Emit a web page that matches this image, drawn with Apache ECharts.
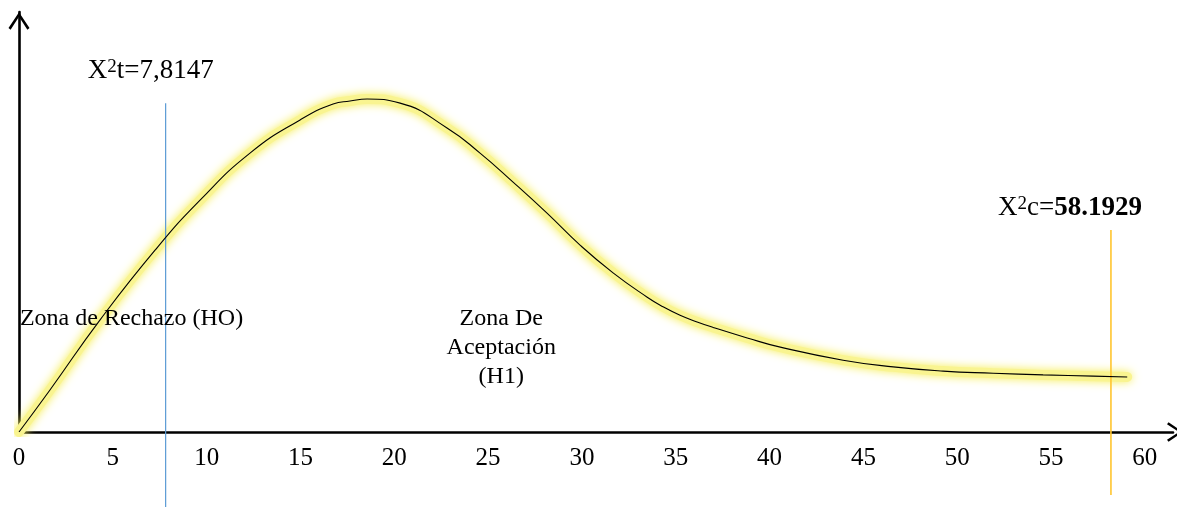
<!DOCTYPE html>
<html><head><meta charset="utf-8">
<script src="https://cdn.jsdelivr.net/npm/echarts@6/dist/echarts.min.js"></script>
<style>html,body{margin:0;padding:0;background:#fff}#c{width:1177px;height:507px}</style>
</head><body><div id="c"></div>
<script>
// Curve (x in chi-square units, y in arbitrary density units)
const curveX = [0, 1.65, 4.32, 7.25, 9.65, 12.31, 14.98, 16.74, 17.64, 18.55, 20.31, 22.81, 24.57, 26.33, 28.14, 29.90, 31.66, 33.48, 34.33, 35.23, 36.14, 36.99, 38.81, 40.57, 43.92, 46.59, 49.25, 51.92, 54.58, 57.25, 59.06];
const curveY = [0, 10.0, 26.7, 43.3, 55.2, 66.4, 74.3, 78.1, 78.8, 79.3, 78.3, 72.4, 66.4, 59.5, 52.1, 44.5, 37.9, 32.1, 29.8, 27.8, 26.2, 24.9, 22.4, 20.2, 17.1, 15.5, 14.5, 14.0, 13.6, 13.3, 13.1];
const xTickLabels = ['0','5','10','15','20','25','30','35','40','45','50','55','60'];
const chiTabla = 7.8147;
const chiCalc = 58.1929;
const tLineY = [78.3, -17.9];
const cLineY = [48.1, -15.0];
const zoneNames = ['Zona de Rechazo (HO)', 'Zona De\nAceptación\n(H1)'];
const zoneX = [0.05, 25.7];
const zoneY = [27.0, 20.0];

const FONT = "'Liberation Serif', 'Times New Roman', serif";
const chevron = 'path://M10,0 L20,15 L18,16.6 L10,4.2 L2,16.6 L0,15 Z';

const curve = curveX.map((x, i) => [x, curveY[i]]);

const chart = echarts.init(document.getElementById('c'), null, {renderer: 'canvas'});
chart.setOption({
  animation: false,
  backgroundColor: '#fff',
  grid: {left: 19, right: 4, top: 12, bottom: 75, outerBoundsMode: 'none', containLabel: false},
  xAxis: {
    type: 'value', min: 0, max: 61.5, interval: 5,
    splitLine: {show: false},
    axisTick: {show: false},
    axisLine: {show: true, onZero: false, lineStyle: {color: '#000', width: 2.6},
      symbol: ['none', chevron], symbolSize: [21, 16], symbolOffset: [0, 2]},
    axisLabel: {
      show: true, showMaxLabel: false, margin: 14, color: '#000',
      fontFamily: FONT, fontSize: 25,
      formatter: v => xTickLabels.includes(String(v)) ? String(v) : ''
    }
  },
  yAxis: {
    type: 'value', min: 0, max: 100,
    splitLine: {show: false},
    axisTick: {show: false},
    axisLabel: {show: false},
    axisLine: {show: true, onZero: false, lineStyle: {color: '#000', width: 2.6},
      symbol: ['none', chevron], symbolSize: [21, 18], symbolOffset: [0, -9]}
  },
  series: [
    {
      name: 'glow', type: 'line', data: curve, smooth: 0.5, showSymbol: false, silent: true,
      lineStyle: {color: '#f9f490', width: 10, cap: 'round', join: 'round', shadowBlur: 10, shadowColor: '#f6ee55'},
      z: 1
    },
    {
      name: 'curva', type: 'line', data: curve, smooth: 0.5, showSymbol: false,
      lineStyle: {color: '#000', width: 1.1},
      z: 3
    },
    {
      name: 'tabla', type: 'line', clip: false, showSymbol: true, symbol: 'circle', symbolSize: 1,
      itemStyle: {color: 'rgba(0,0,0,0)'},
      lineStyle: {color: '#5b9bd5', width: 1.2}, z: 2,
      data: [
        {value: [chiTabla, tLineY[0]], label: {
          show: true, position: 'top', distance: 18, offset: [-15, 0],
          formatter: '{a|X}{s|2}{a|t=7,8147}',
          rich: {a: {fontFamily: FONT, fontSize: 27, color: '#000'},
                 s: {fontFamily: FONT, fontSize: 19, color: '#000', verticalAlign: 'top'}}
        }},
        [chiTabla, tLineY[1]]
      ]
    },
    {
      name: 'calculado', type: 'line', clip: false, showSymbol: true, symbol: 'circle', symbolSize: 1,
      itemStyle: {color: 'rgba(0,0,0,0)'},
      lineStyle: {color: '#ffc52e', width: 1.6}, z: 2,
      data: [
        {value: [chiCalc, cLineY[0]], label: {
          show: true, position: 'top', distance: 8, offset: [-41, 0],
          formatter: '{a|X}{s|2}{a|c=}{b|58.1929}',
          rich: {a: {fontFamily: FONT, fontSize: 27, color: '#000'},
                 s: {fontFamily: FONT, fontSize: 19, color: '#000', verticalAlign: 'top'},
                 b: {fontFamily: FONT, fontSize: 27, color: '#000', fontWeight: 'bold'}}
        }},
        [chiCalc, cLineY[1]]
      ]
    },
    {
      name: 'zonas', type: 'scatter', symbolSize: 0, silent: true, z: 4,
      itemStyle: {opacity: 1},
      data: [
        {value: [zoneX[0], zoneY[0]], name: zoneNames[0], label: {
          show: true, position: 'right', distance: 0, align: 'left',
          formatter: zoneNames[0], fontFamily: FONT, fontSize: 24, color: '#000'}},
        {value: [zoneX[1], zoneY[1]], name: zoneNames[1], label: {
          show: true, position: 'inside', align: 'center',
          formatter: zoneNames[1], fontFamily: FONT, fontSize: 24, lineHeight: 29, color: '#000'}}
      ]
    }
  ]
});
</script>
</body></html>
